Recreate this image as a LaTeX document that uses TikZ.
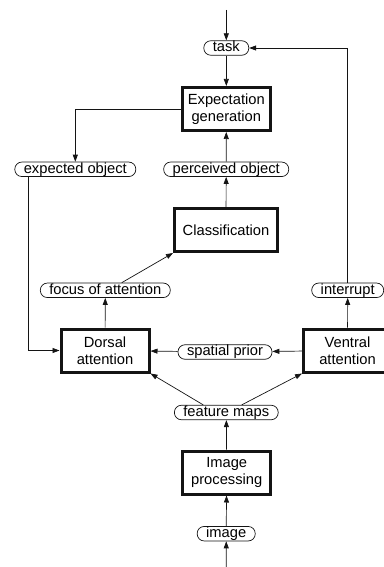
\documentclass[tikz,border=0pt]{standalone}
\usepackage{fontspec}
\setmainfont{Liberation Sans}
\usepackage{tikz}
\usetikzlibrary{arrows.meta, positioning, calc}
\definecolor{lineblack}{RGB}{20,20,20}

\tikzset{
  stagebox/.style={draw=lineblack, line width=3pt, align=center,
    minimum width=88pt, minimum height=43pt, inner sep=2pt,
    font=\fontsize{14.7}{17.3}\selectfont},
  pill/.style={draw=lineblack, line width=0.7pt, rounded corners=7pt,
    inner xsep=9pt, inner ysep=0.5pt, text height=10.5pt, text depth=3pt,
    font=\fontsize{14.7}{17.3}\selectfont},
  flow/.style={draw=lineblack, line width=0.7pt, -{Triangle[length=7pt,width=5pt]}},
}

\begin{document}
\begin{tikzpicture}[x=1pt, y=-1pt]
\useasboundingbox (0,0) rectangle (383,567);

% ---- processing stages ----
\node[stagebox] (expgen) at (226.3,109) {Expectation\\generation};
\node[stagebox, minimum width=103pt] (classif) at (226,230) {Classification};
\node[stagebox] (dorsal) at (105,350.5) {Dorsal\\attention};
\node[stagebox] (ventral) at (347.5,350.5) {Ventral\\attention};
\node[stagebox] (improc) at (226.7,472.5) {Image\\processing};

% ---- signals ----
\node[pill] (task)      at (226.3,48)    {task};
\node[pill] (expected)  at (75.3,169.3)  {expected object};
\node[pill] (perceived) at (226.2,169.3) {perceived object};
\node[pill] (focus)     at (105.3,290.3) {focus of attention};
\node[pill] (interrupt) at (347.7,290.3) {interrupt};
\node[pill] (spatial)   at (225,352)     {spatial prior};
\node[pill] (features)  at (226.3,412.5) {feature maps};
\node[pill] (image)     at (226.2,533.7) {image};

% loose ends
\coordinate (intop) at (226.3,10);
\coordinate (inbot) at (226.3,567);

% ---- connectors ----
\draw[flow] (intop) -- (task);
\draw[flow] (task) -- (expgen);
\draw[flow] (expgen.west) -| (expected.north);
\draw[flow] ([xshift=14.3pt]expected.south west) |- (dorsal.west);
\draw[flow] (perceived) -- (expgen);
\draw[flow] (classif) -- (perceived);
\draw[flow] ([xshift=16.4pt]focus.north) -- (classif.south west);
\draw[flow] (dorsal) -- (focus);
\draw[flow] (ventral) -- (spatial);
\draw[flow] (spatial) -- (dorsal);
\draw[flow] (ventral) -- (interrupt);
\draw[flow] (interrupt.north) |- (task.east);
\draw[flow] ([xshift=-23pt]features.north) -- (dorsal.south east);
\draw[flow] ([xshift=15.4pt]features.north) -- (ventral.south west);
\draw[flow] (improc) -- (features);
\draw[flow] (image) -- (improc);
\draw[flow] (inbot) -- (image);
\end{tikzpicture}
\end{document}
